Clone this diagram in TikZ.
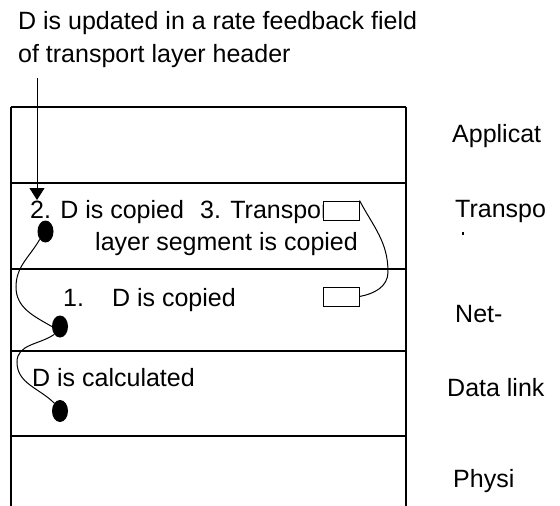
\documentclass[tikz,border=0pt]{standalone}
\usepackage{fontspec}
\setmainfont{Liberation Sans}
\usetikzlibrary{shapes.geometric,arrows.meta}
\begin{document}
\begin{tikzpicture}[x=1pt,y=-1pt,
  lbl/.style={anchor=base west,inner sep=0pt,font=\fontsize{25}{30}\selectfont},
  layerline/.style={line width=1.1pt},
  wire/.style={line width=1pt},
  dot/.style={ellipse,fill=black,inner sep=0pt,minimum width=16pt,minimum height=22pt},
  slot/.style={draw,fill=white,line width=1pt,inner sep=0pt,minimum width=36pt,minimum height=19pt}]
\useasboundingbox (0,0) rectangle (560,506);
% layer box
\draw[layerline] (11,107) -- (11,506);
\draw[layerline] (406,107) -- (406,506);
\foreach \yy in {107,183,269,351,436} \draw[layerline] (11,\yy) -- (406,\yy);
% top text
\node[lbl] (t1) at (18,30) {D is updated in a rate feedback field};
\node[lbl] (t2) at (18,62) {of transport layer header};
% layer texts
\node[lbl] (c2) at (30,218) {2. D is copied};
\node[lbl] (c3) at (200,218) {3. Transport};
\node[lbl] (seg) at (95,250) {layer segment is copied};
\node[lbl] (c1) at (63,306) {1.\hspace{28pt}D is copied};
\node[lbl] (calc) at (32,386) {D is calculated};
% right labels
\node[lbl] (app) at (452,142) {Applicat};
\node[lbl] (tra) at (455,217) {Transpo};
\fill (462,232) rectangle (464,235);
\node[lbl] (net) at (455,322) {Net-};
\node[lbl] (dl) at (447,396) {Data link};
\node[lbl] (phy) at (453,487) {Physi};
% slots
\node[slot] (r1) at (341,210.5) {};
\node[slot] (r2) at (341,296.5) {};
\draw[wire] (r1.north east) to[out=-62,in=90] (388,272) to[out=-90,in=10] (r2.east);
% dots
\node[dot] (d1) at (45.5,231.5) {};
\node[dot] (d2) at (60,326.5) {};
\node[dot] (d3) at (60,411) {};
\draw[wire] (d1.south west) to[out=-120,in=90] (16,287) to[out=-90,in=150] (d2.west);
\draw[wire] (d2.south west) to[out=215,in=90] (17,362) to[out=-90,in=135] (d3.north west);
% arrow
\coordinate (as) at (37,78);
\coordinate (ae) at (37,200);
\draw[wire,-{Triangle[width=15pt,length=12pt]}] (as) -- (ae);
\end{tikzpicture}
\end{document}
